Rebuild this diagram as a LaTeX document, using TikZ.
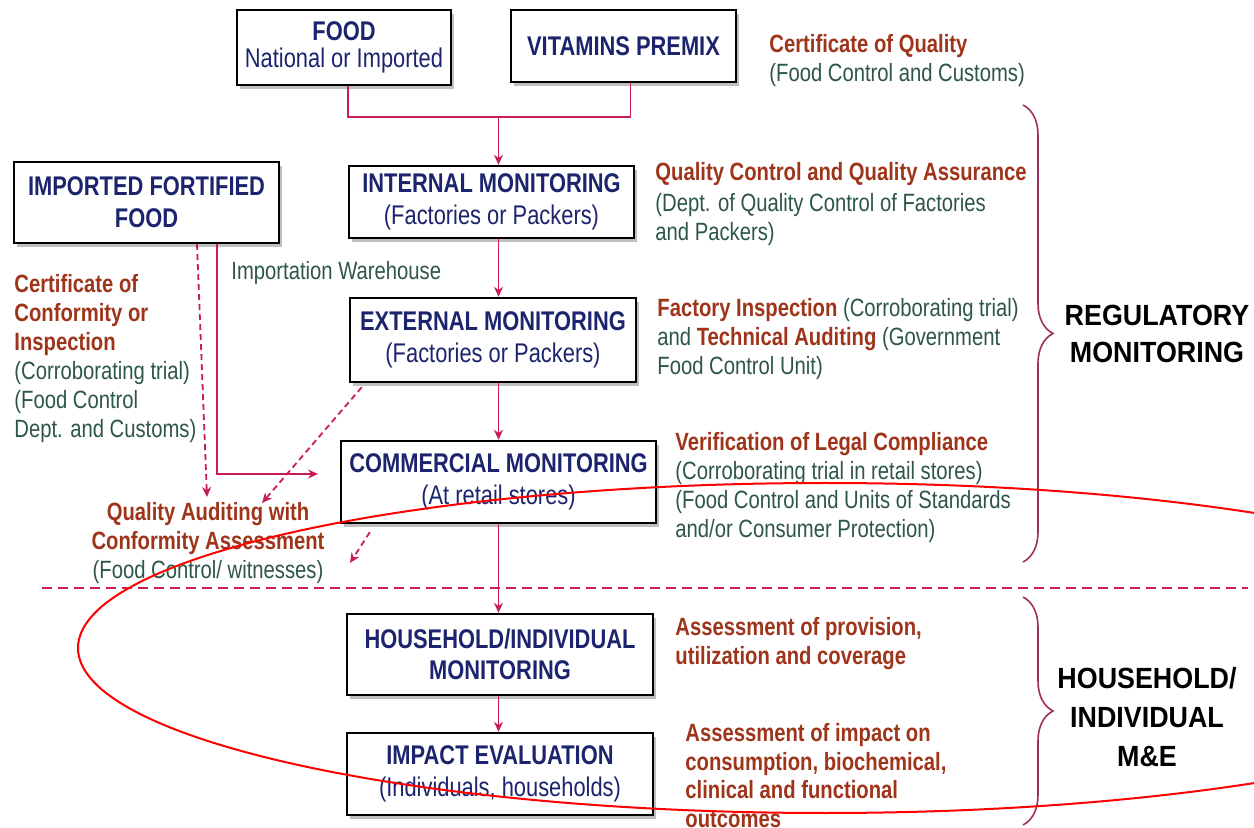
\documentclass[tikz,border=0pt]{standalone}
\usepackage{fontspec}
\setmainfont{Liberation Sans}[FakeStretch=0.81]
\newfontfamily\bigfont{Liberation Sans}[FakeStretch=0.92]
\usetikzlibrary{arrows.meta,shadows,decorations.pathreplacing}

\definecolor{boxnavy}{RGB}{28,36,110}
\definecolor{rust}{RGB}{158,52,26}
\definecolor{sage}{RGB}{46,86,72}
\definecolor{flowred}{RGB}{200,28,88}
\definecolor{bracered}{RGB}{160,48,90}

\tikzset{
  stage/.style={draw=black, line width=1.2pt, fill=white, align=center, text=boxnavy,
    font=\fontsize{13.5}{15.8}\selectfont, inner sep=0pt,
    drop shadow={shadow xshift=1.5pt, shadow yshift=-2pt, opacity=0.25, fill=black}},
  note/.style={align=left, font=\fontsize{12.5}{14.5}\selectfont, text=sage, inner sep=0pt, anchor=base west},
  tag/.style={align=center, font=\bigfont\bfseries\fontsize{14.6}{18.5}\selectfont, inner sep=0pt, anchor=base},
  flow/.style={draw=flowred, line width=0.9pt},
  arr/.style={-{Stealth[length=5pt,width=4.5pt]}},
  hint/.style={flow, dash pattern=on 3pt off 2pt},
  bracket/.style={draw=bracered, line width=0.8pt, decorate, decoration={brace, amplitude=15pt}},
}

\begin{document}
\begin{tikzpicture}[x=0.5pt,y=-0.5pt]
    \useasboundingbox (0,0) rectangle (1254,828);
    % boxes
    \node[stage, minimum width=107pt, minimum height=37.5pt] (food) at (344,47.5) {\textbf{FOOD}\\[-2.5pt]National or Imported};
    \node[stage, minimum width=112.5pt, minimum height=36pt] (premix) at (623.5,46) {\textbf{VITAMINS PREMIX}};
    \node[stage, minimum width=142.5pt, minimum height=36pt] (internal) at (491.5,202) {\textbf{INTERNAL MONITORING}\\(Factories or Packers)};
    \node[stage, minimum width=143pt, minimum height=42pt] (external) at (493,340) {\textbf{EXTERNAL MONITORING}\\(Factories or Packers)};
    \node[stage, minimum width=157.5pt, minimum height=41pt] (commercial) at (498.5,482) {\textbf{COMMERCIAL MONITORING}\\(At retail stores)};
    \node[stage, minimum width=132.5pt, minimum height=40.5pt] (imported) at (146.5,202.5) {\textbf{IMPORTED FORTIFIED}\\\textbf{FOOD}};
    \node[stage, minimum width=153pt, minimum height=40.5pt] (household) at (500,654.5) {\textbf{HOUSEHOLD/INDIVIDUAL}\\\textbf{MONITORING}};
    \node[stage, minimum width=153pt, minimum height=41pt] (impact) at (500,774) {\textbf{IMPACT EVALUATION}\\(Individuals, households)};

    % notes on the right (placed by their last line)
    \node[note] (qualcert) at (769,82) {\textcolor{rust}{\textbf{Certificate of Quality}}\\(Food Control and Customs)};
    \node[note] (qcqa) at (655,241) {\textcolor{rust}{\textbf{Quality Control and Quality Assurance}}\\[1pt](Dept. of Quality Control of Factories\\and Packers)};
    \node[note] (inspect) at (657,375) {\textcolor{rust}{\textbf{Factory Inspection}} (Corroborating trial)\\and \textcolor{rust}{\textbf{Technical Auditing}} (Government\\Food Control Unit)};
    \node[note] (legal) at (675,538) {\textcolor{rust}{\textbf{Verification of Legal Compliance}}\\(Corroborating trial in retail stores)\\(Food Control and Units of Standards\\and/or Consumer Protection)};
    \node[note, text=rust, font=\bfseries\fontsize{12.5}{14.5}\selectfont] (provision) at (675,665) {Assessment of provision,\\utilization and coverage};
    \node[note, text=rust, font=\bfseries\fontsize{12.5}{14.25}\selectfont] (outcome) at (685,827) {Assessment of impact on\\consumption, biochemical,\\clinical and functional\\outcomes};

    % notes on the left
    \node[note] (conform) at (14,438) {\textcolor{rust}{\textbf{Certificate of}}\\\textcolor{rust}{\textbf{Conformity or}}\\\textcolor{rust}{\textbf{Inspection}}\\(Corroborating trial)\\(Food Control\\Dept. and Customs)};
    \node[note] (warehouse) at (231,280) {Importation Warehouse};
    \node[note, anchor=base, align=center] (audit) at (208,579) {\textcolor{rust}{\textbf{Quality Auditing with}}\\\textcolor{rust}{\textbf{Conformity Assessment}}\\(Food Control/ witnesses)};

    % group tags
    \node[tag] (regtag) at (1157,362.5) {REGULATORY\\MONITORING};
    \node[tag, font=\bigfont\bfseries\fontsize{14.6}{19.5}\selectfont] (hhtag) at (1147,766) {HOUSEHOLD/\\INDIVIDUAL\\M\&E};

    % main flow
    \coordinate (join) at (498.5,117);
    \draw[flow] ([xshift=2pt]food.south) |- (join) -| ([xshift=3.5pt]premix.south);
    \draw[flow,arr] (join) -- (internal.north -| join);
    \draw[flow,arr] (internal.south -| join) -- (external.north -| join);
    \draw[flow,arr] (external.south -| join) -- (commercial.north -| join);
    \draw[flow,arr] (commercial.south -| join) -- (household.north -| join);
    \draw[flow,arr] (household.south -| join) -- (impact.north -| join);

    % imported food and audit arrows
    \coordinate (whin) at (318,474);
    \draw[flow,arr] ([xshift=35.25pt]imported.south) |- (whin);
    \coordinate (auditin) at (207,497);
    \draw[hint,arr] ([xshift=25.25pt]imported.south) -- (auditin);
    \coordinate (auditext) at (262,503);
    \draw[hint,arr] ([xshift=6.5pt,yshift=-2pt]external.south west) -- (auditext);
    \coordinate (auditcom) at (350,563);
    \draw[hint,arr] ([xshift=15pt,yshift=-4pt]commercial.south west) -- (auditcom);

    % divider and braces
    \draw[hint, line width=1pt, dash pattern=on 5pt off 3pt] (42,588) -- (1248,588);
    \draw[bracket] (1023,105) -- (1023,562);
    \draw[bracket] (1023,597) -- (1023,825);

    % red mark
    \begin{scope}
        \clip (0,0) rectangle (1254,828);
        \draw[red, line width=1pt] (825,648) ellipse [x radius=373.5pt, y radius=82.5pt];
    \end{scope}
\end{tikzpicture}
\end{document}
